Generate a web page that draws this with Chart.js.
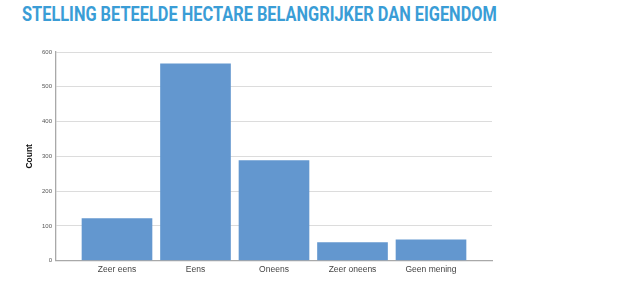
<!DOCTYPE html>
<html>
<head>
<meta charset="utf-8">
<script src="https://cdn.jsdelivr.net/npm/chart.js@4.4.1/dist/chart.umd.min.js"></script>
<style>
    html, body { margin: 0; padding: 0; background: #fff; }
    #wrap { position: relative; width: 625px; height: 286px; }
    #title {
        position: absolute; left: 22px; top: 4px;
        font: bold 21px Roboto, sans-serif; line-height: 21px;
        color: #3a9dd6; white-space: nowrap; transform-origin: 0 0;
    }
    #chart { position: absolute; left: 0; top: 0; }
</style>
</head>
<body>
<div id="wrap">
    <div id="title">STELLING BETEELDE HECTARE BELANGRIJKER DAN EIGENDOM</div>
    <canvas id="chart" width="625" height="286"></canvas>
</div>
<script>
// Chart data
const categories = ['Zeer eens', 'Eens', 'Oneens', 'Zeer oneens', 'Geen mening'];
const counts = [122, 567, 289, 53, 61];
const yTicks = [0, 100, 200, 300, 400, 500, 600];

// Stretch the title to the width it has in the reference
const titleEl = document.getElementById('title');
titleEl.style.transform = `scaleX(${475 / titleEl.offsetWidth})`;

const ctx = document.getElementById('chart').getContext('2d');
new Chart(ctx, {
    type: 'bar',
    data: {
        datasets: [{
            data: counts.map((v, i) => ({ x: i, y: v })),
            backgroundColor: '#6397cf',
            borderWidth: 0,
            barPercentage: 0.9,
            categoryPercentage: 1
        }]
    },
    options: {
        responsive: false,
        animation: false,
        layout: { padding: { left: 0, right: 133, top: 52, bottom: 0 } },
        plugins: {
            legend: { display: false },
            tooltip: { enabled: false }
        },
        scales: {
            x: {
                type: 'linear',
                offset: false,
                min: -0.777,
                max: 4.777,
                afterBuildTicks: (scale) => {
                    scale.ticks = categories.map((c, i) => ({ value: i }));
                },
                afterFit: (scale) => { scale.height = 25.3; },
                grid: { display: false, drawTicks: false, offset: false },
                border: { display: true, color: '#a9a9a9', width: 1.3 },
                ticks: {
                    autoSkip: false,
                    maxRotation: 0,
                    padding: 4,
                    color: '#444',
                    font: { family: 'Arial, Liberation Sans, sans-serif', size: 8.5 },
                    callback: (value) => categories[value]
                }
            },
            y: {
                min: 0,
                max: 600,
                afterBuildTicks: (scale) => {
                    scale.ticks = yTicks.map(v => ({ value: v }));
                },
                afterFit: (scale) => { scale.width = 56; },
                grid: { color: '#dcdcdc', lineWidth: 1, drawTicks: false },
                border: { display: true, color: '#a9a9a9', width: 1.3 },
                ticks: {
                    padding: 4,
                    color: '#555',
                    font: { family: 'Arial, Liberation Sans, sans-serif', size: 6 }
                },
                title: {
                    display: true,
                    text: 'Count',
                    color: '#111',
                    font: { family: 'Arial, Liberation Sans, sans-serif', size: 8.5, weight: 'bold' },
                    padding: { top: 25, bottom: 0 }
                }
            }
        }
    }
});
</script>
</body>
</html>
